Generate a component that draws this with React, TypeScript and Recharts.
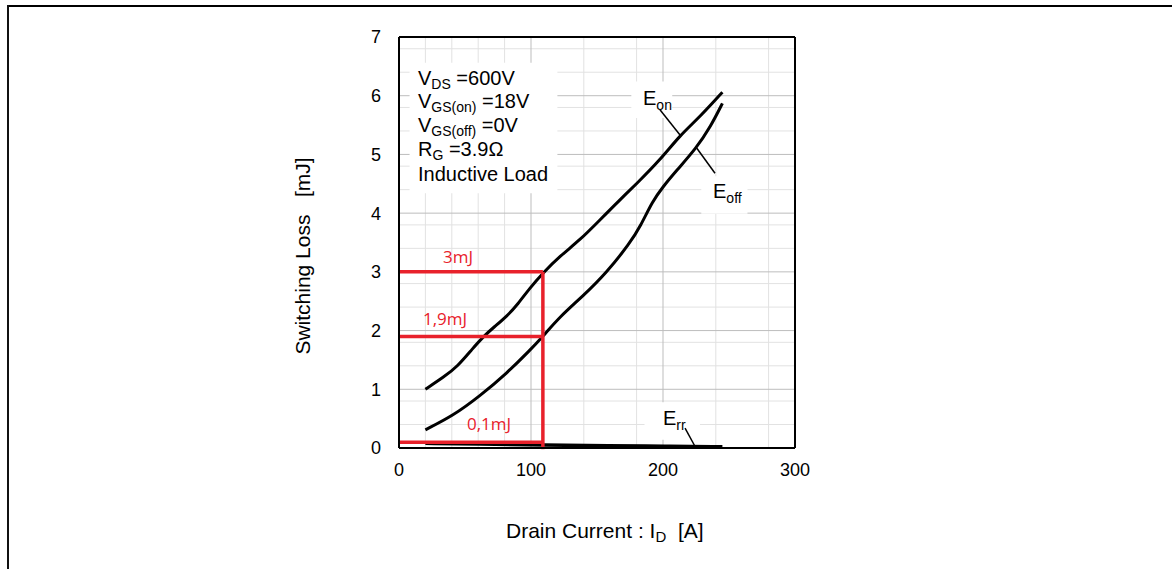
import React from "react";
import {
  LineChart,
  Line,
  XAxis,
  YAxis,
  CartesianGrid,
  ReferenceLine,
  ReferenceArea,
} from "recharts";

// Switching loss vs drain current
const eonCurrent = [20, 34, 44, 56, 64, 72, 82, 90, 99, 109, 122, 137, 152, 167, 180, 198, 213, 228, 245];
const eonLoss = [1.0, 1.21, 1.38, 1.7, 1.9, 2.06, 2.25, 2.45, 2.72, 2.98, 3.27, 3.54, 3.88, 4.22, 4.5, 4.91, 5.33, 5.64, 6.06];

const eoffCurrent = [20, 41, 61, 82, 99, 109, 122, 140, 157, 175, 183, 192, 200, 210, 225, 236, 245];
const eoffLoss = [0.31, 0.55, 0.88, 1.28, 1.66, 1.9, 2.24, 2.6, 2.98, 3.49, 3.78, 4.2, 4.45, 4.72, 5.1, 5.47, 5.87];

const errCurrent = [20, 60, 110, 160, 200, 245];
const errLoss = [0.08, 0.07, 0.05, 0.04, 0.03, 0.02];

const xTicks = [0, 100, 200, 300];
const yTicks = [0, 1, 2, 3, 4, 5, 6, 7];
const xMinorGrid = [20, 40, 60, 80, 120, 140, 160, 180, 220, 240, 260, 280];
const xMajorGrid = [100, 200];
const yMinorGrid = [
  0.2, 0.4, 0.6, 0.8, 1.2, 1.4, 1.6, 1.8, 2.2, 2.4, 2.6, 2.8, 3.2, 3.4, 3.6, 3.8,
  4.2, 4.4, 4.6, 4.8, 5.2, 5.4, 5.6, 5.8, 6.2, 6.4, 6.6, 6.8,
];
const yMajorGrid = [1, 2, 3, 4, 5, 6];

// the red read-off at ID = 109 A
const markCurrent = 109;
const markLevels = [3, 1.9, 0.1];

const eonData = eonCurrent.map((i, k) => ({ i, e: eonLoss[k] }));
const eoffData = eoffCurrent.map((i, k) => ({ i, e: eoffLoss[k] }));
const errData = errCurrent.map((i, k) => ({ i, e: errLoss[k] }));

const RED = "#e8212b";
const FONT = "'Liberation Sans', Arial, sans-serif";

export default function App() {
  return (
    <div
      style={{
        position: "absolute",
        left: 0,
        top: 0,
        width: 1172,
        height: 569,
        background: "#fff",
        overflow: "hidden",
      }}
    >
      <div style={{ position: "absolute", left: 7, top: 5, width: 1165, height: 2, background: "#000" }} />
      <div style={{ position: "absolute", left: 7, top: 5, width: 2, height: 564, background: "#111" }} />

      <div style={{ position: "absolute", left: 0, top: 0 }}>
        <LineChart
          width={1172}
          height={569}
          margin={{ top: 37, right: 377, bottom: 81, left: 339 }}
        >
          <CartesianGrid
            stroke="#e2e2e2"
            strokeWidth={1}
            horizontalValues={yMinorGrid}
            verticalValues={xMinorGrid}
          />
          <CartesianGrid
            stroke="#bdbdbd"
            strokeWidth={1}
            horizontalValues={yMajorGrid}
            verticalValues={xMajorGrid}
          />
          <XAxis
            type="number"
            dataKey="i"
            domain={[0, 300]}
            ticks={xTicks}
            height={40}
            tickLine={false}
            tickSize={6}
            tickMargin={9}
            axisLine={{ stroke: "#000", strokeWidth: 2 }}
            tick={{ fill: "#000", fontSize: 18, fontFamily: FONT }}
          />
          <YAxis
            type="number"
            domain={[0, 7]}
            ticks={yTicks}
            width={60}
            tickLine={false}
            tickSize={6}
            tickMargin={12}
            axisLine={{ stroke: "#000", strokeWidth: 2 }}
            tick={{ fill: "#000", fontSize: 18, fontFamily: FONT }}
          />
          <ReferenceLine y={7} stroke="#000" strokeWidth={2} />
          <ReferenceLine x={300} stroke="#000" strokeWidth={2} />

          {/* white boxes behind the in-plot labels */}
          <ReferenceArea x1={8} x2={120} y1={4.34} y2={6.56} fill="#fff" fillOpacity={1} stroke="none" />
          <ReferenceArea x1={176} x2={207} y1={5.62} y2={6.24} fill="#fff" fillOpacity={1} stroke="none" />
          <ReferenceArea x1={229} x2={264} y1={3.99} y2={4.63} fill="#fff" fillOpacity={1} stroke="none" />
          <ReferenceArea x1={186} x2={228} y1={0.14} y2={0.78} fill="#fff" fillOpacity={1} stroke="none" />

          <Line data={errData} dataKey="e" type="basis" stroke="#000" strokeWidth={3.5} dot={false} isAnimationActive={false} />
          <Line data={eoffData} dataKey="e" type="basis" stroke="#000" strokeWidth={3} dot={false} isAnimationActive={false} />
          <Line data={eonData} dataKey="e" type="basis" stroke="#000" strokeWidth={3} dot={false} isAnimationActive={false} />

          {/* leader lines */}
          <ReferenceLine segment={[{ x: 197.7, y: 5.76 }, { x: 212.9, y: 5.33 }]} stroke="#000" strokeWidth={1.5} />
          <ReferenceLine segment={[{ x: 225.5, y: 5.11 }, { x: 239.4, y: 4.68 }]} stroke="#000" strokeWidth={1.5} />
          <ReferenceLine segment={[{ x: 216.7, y: 0.34 }, { x: 224.2, y: 0.03 }]} stroke="#000" strokeWidth={1.5} />

          {markLevels.map((lv) => (
            <ReferenceLine
              key={lv}
              segment={[{ x: 0, y: lv }, { x: markCurrent, y: lv }]}
              stroke={RED}
              strokeWidth={3.5}
            />
          ))}
          <ReferenceLine
            segment={[{ x: markCurrent, y: -0.02 }, { x: markCurrent, y: 3 }]}
            stroke={RED}
            strokeWidth={3.5}
            ifOverflow="visible"
          />
        </LineChart>
      </div>

      <svg
        width={1172}
        height={569}
        style={{ position: "absolute", left: 0, top: 0, pointerEvents: "none" }}
        fontFamily={FONT}
      >
        <text
          transform="translate(310,256) rotate(-90)"
          textAnchor="middle"
          fontSize={21}
          fill="#000"
          style={{ whiteSpace: "pre" }}
        >
          {"Switching Loss   [mJ]"}
        </text>
        <text x={506} y={538} fontSize={21} fill="#000" style={{ whiteSpace: "pre" }}>
          {"Drain Current : I"}
          <tspan fontSize={15} dy={4}>D</tspan>
          <tspan dy={-4}>{"  [A]"}</tspan>
        </text>

        <g fontSize={20} fill="#000">
          <text x={418} y={85}>
            V<tspan fontSize={14} dy={4}>DS</tspan>
            <tspan dy={-4} style={{ whiteSpace: "pre" }}>{" =600V"}</tspan>
          </text>
          <text x={418} y={108}>
            V<tspan fontSize={14} dy={4}>GS(on)</tspan>
            <tspan dy={-4} style={{ whiteSpace: "pre" }}>{" =18V"}</tspan>
          </text>
          <text x={418} y={132}>
            V<tspan fontSize={14} dy={4}>GS(off)</tspan>
            <tspan dy={-4} style={{ whiteSpace: "pre" }}>{" =0V"}</tspan>
          </text>
          <text x={418} y={156}>
            R<tspan fontSize={14} dy={4}>G</tspan>
            <tspan dy={-4} style={{ whiteSpace: "pre" }}>{" =3.9Ω"}</tspan>
          </text>
          <text x={418} y={181}>Inductive Load</text>

          <text x={643} y={105}>
            E<tspan fontSize={14} dy={5}>on</tspan>
          </text>
          <text x={713} y={198}>
            E<tspan fontSize={14} dy={5}>off</tspan>
          </text>
          <text x={663} y={425}>
            E<tspan fontSize={14} dy={5}>rr</tspan>
          </text>
        </g>

        <g fontSize={17} fill={RED} fontFamily="'Open Sans', sans-serif">
          <text x={443} y={263}>3mJ</text>
          <text x={423} y={325}>1,9mJ</text>
          <text x={467} y={430}>0,1mJ</text>
        </g>
      </svg>
    </div>
  );
}
